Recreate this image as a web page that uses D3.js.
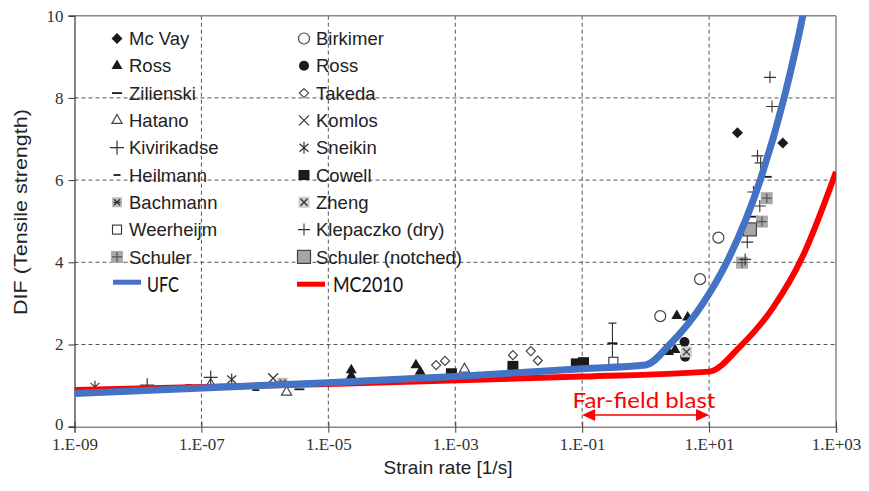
<!DOCTYPE html>
<html>
<head>
<meta charset="utf-8">
<script src="https://cdn.jsdelivr.net/npm/d3@7"></script>
<style>
  body { margin: 0; background: #fff; }
  svg { display: block; }
</style>
</head>
<body>
<div id="chart"></div>
<script>
// axis ticks
var xTicks = [1e-9, 1e-7, 1e-5, 1e-3, 1e-1, 1e1, 1e3];
var xTickLabels = ["1.E-09", "1.E-07", "1.E-05", "1.E-03", "1.E-01", "1.E+01", "1.E+03"];
var yTicks = [0, 2, 4, 6, 8, 10];

// design curves [strain rate, DIF]
var ufcCurve = [[1e-9, 0.81], [1e-5, 1.07], [1e-3, 1.22], [1e-1, 1.41], [1, 1.5], [2.4, 2], [8, 3], [19, 4], [64, 6], [152, 8], [300, 10], [420, 11.2]];
var mc2010Curve = [[1e-9, 0.89], [1e-5, 1.04], [1e-1, 1.22], [10, 1.34], [30, 1.93], [100, 2.88], [300, 4.15], [1000, 6.2]];

// test data [strain rate, DIF]
var mcVay = [[28, 7.15], [145, 6.9]];
var rossTri = [[2.3e-5, 1.38], [2.3e-5, 1.24], [2.4e-4, 1.5], [2.8e-4, 1.34], [3.1, 2.7], [4.6, 2.66], [2.3, 1.82], [2.9, 1.87]];
var zilienski = [[3.5e-6, 0.91], [81, 6.08], [50, 5.11], [0.3, 2.03]];
var hatano = [[1.4e-7, 1.03], [2.2e-6, 0.84], [1.4e-3, 1.4]];
var kivirikadse = [[1.4e-8, 1.01], [1.4e-7, 1.2]];
var heilmann = [[6.3e-8, 1.01], [7.2e-7, 0.89]];
var bachmann = [[1.9e-6, 1.07]];
var weerheijm = [[0.31, 1.58]];
var schuler = [[81, 5.56], [68, 4.99], [33, 3.99]];
var birkimer = [[1.7, 2.69], [7.2, 3.59], [14, 4.6]];
var rossCircle = [[4.1, 2.06], [4.2, 1.7]];
var takeda = [[5e-4, 1.5], [6.9e-4, 1.6], [8.1e-3, 1.74], [1.55e-2, 1.84], [2.0e-2, 1.61]];
var komlos = [[1.35e-6, 1.18]];
var sneikin = [[2.1e-9, 0.97], [3.0e-7, 1.15]];
var cowell = [[8.7e-4, 1.3], [8.1e-3, 1.48], [8.1e-2, 1.54], [0.105, 1.57]];
var zheng = [[4.4, 1.82]];
var klepaczko = [[91, 8.5], [98, 7.79], [58, 6.59], [65, 6.42], [50, 5.71], [63, 5.37], [40, 4.49], [37, 4.07]];
var schulerNotched = [[44, 4.8]];
// error bar [strain rate, low, high]
var errorBars = [[0.3, 1.6, 2.52]];

// far-field blast range
var blastRange = [0.1, 10];

var seriesCol1 = [
  {name: "Mc Vay", sym: "diamondFilled", data: mcVay},
  {name: "Ross", sym: "triFilled", data: rossTri},
  {name: "Zilienski", sym: "dash", data: zilienski},
  {name: "Hatano", sym: "triOpen", data: hatano},
  {name: "Kivirikadse", sym: "plus", data: kivirikadse},
  {name: "Heilmann", sym: "shortDash", data: heilmann},
  {name: "Bachmann", sym: "bachmann", data: bachmann},
  {name: "Weerheijm", sym: "squareOpen", data: weerheijm},
  {name: "Schuler", sym: "schuler", data: schuler}
];
var seriesCol2 = [
  {name: "Birkimer", sym: "circleOpen", data: birkimer},
  {name: "Ross", sym: "circleFilled", data: rossCircle},
  {name: "Takeda", sym: "diamondOpen", data: takeda},
  {name: "Komlos", sym: "times", data: komlos},
  {name: "Sneikin", sym: "asterisk", data: sneikin},
  {name: "Cowell", sym: "squareFilled", data: cowell},
  {name: "Zheng", sym: "zheng", data: zheng},
  {name: "Klepaczko (dry)", sym: "plusThin", data: klepaczko},
  {name: "Schuler (notched)", sym: "notched", data: schulerNotched}
];

const width = 869, height = 491;
const plot = {left: 74.5, right: 836, top: 15.7, bottom: 426.7};
const serif = "'Liberation Serif','Times New Roman',serif";
const sans = "'Liberation Sans',Arial,sans-serif";
const calibri = "Lato,'Open Sans',sans-serif";

var x = d3.scaleLog().domain([1e-9, 1e3]).range([plot.left, plot.right]);
var y = d3.scaleLinear().domain([0, 10]).range([plot.bottom, plot.top]);

var svg = d3.select("#chart").append("svg")
  .attr("width", width).attr("height", height);

svg.append("defs").append("clipPath").attr("id", "plotClip")
  .append("rect").attr("x", plot.left).attr("y", plot.top)
  .attr("width", plot.right - plot.left).attr("height", plot.bottom - plot.top);

// grid
var grid = svg.append("g");
grid.selectAll("line.v").data(xTicks.slice(1, -1)).enter().append("line")
  .attr("x1", d => x(d)).attr("x2", d => x(d))
  .attr("y1", plot.top).attr("y2", plot.bottom)
  .attr("stroke", "#555").attr("stroke-width", 1).attr("stroke-dasharray", "4,3");
grid.selectAll("line.h").data(yTicks.slice(1, -1)).enter().append("line")
  .attr("x1", plot.left).attr("x2", plot.right)
  .attr("y1", d => y(d)).attr("y2", d => y(d))
  .attr("stroke", "#555").attr("stroke-width", 1).attr("stroke-dasharray", "4,3");

// frame
svg.append("line").attr("x1", plot.left).attr("x2", plot.right).attr("y1", plot.top).attr("y2", plot.top)
  .attr("stroke", "#888").attr("stroke-width", 1.5);
svg.append("line").attr("x1", plot.right).attr("x2", plot.right).attr("y1", plot.top).attr("y2", plot.bottom)
  .attr("stroke", "#888").attr("stroke-width", 1.5);

// x axis
var xAxis = svg.append("g").attr("transform", "translate(0," + plot.bottom + ")")
  .call(d3.axisBottom(x).tickValues(xTicks).tickSize(6)
    .tickFormat((d, i) => xTickLabels[i]));
xAxis.select(".domain").attr("stroke", "#888").attr("stroke-width", 1.5);
xAxis.selectAll(".tick line").attr("y1", -5).attr("y2", 6).attr("stroke", "#444");
xAxis.selectAll(".tick text").attr("y", 11)
  .style("font-family", serif).style("font-size", "17px").attr("fill", "#333");

// y axis
var yAxis = svg.append("g").attr("transform", "translate(" + plot.left + ",0)")
  .call(d3.axisLeft(y).tickValues(yTicks).tickSize(6));
yAxis.select(".domain").attr("stroke", "#333").attr("stroke-width", 1.2);
yAxis.selectAll(".tick line").attr("stroke", "#333");
yAxis.selectAll(".tick text").attr("x", -11)
  .attr("y", d => d == 0 ? -3 : 0)
  .style("font-family", serif).style("font-size", "17px").attr("fill", "#333");

// axis titles
svg.append("text").attr("x", 448).attr("y", 474).attr("text-anchor", "middle")
  .style("font-family", sans).style("font-size", "19px").attr("fill", "#222")
  .text("Strain rate [1/s]");
svg.append("text").attr("transform", "translate(27,212) rotate(-90)").attr("text-anchor", "middle")
  .attr("textLength", 206).attr("lengthAdjust", "spacingAndGlyphs")
  .style("font-family", sans).style("font-size", "19px").attr("fill", "#222")
  .text("DIF (Tensile strength)");

// markers
function marker(g, sym) {
  var dark = "#1a1a1a";
  if (sym == "diamondFilled") {
    g.append("path").attr("d", "M0,-5.5L5.5,0L0,5.5L-5.5,0Z").attr("fill", dark);
  } else if (sym == "triFilled") {
    g.append("path").attr("d", d3.symbol(d3.symbolTriangle, 52)()).attr("fill", dark);
  } else if (sym == "dash") {
    g.append("path").attr("d", "M-5,0H5").attr("stroke", dark).attr("stroke-width", 1.8);
  } else if (sym == "shortDash") {
    g.append("path").attr("d", "M-3.5,0H3.5").attr("stroke", dark).attr("stroke-width", 1.8);
  } else if (sym == "triOpen") {
    g.append("path").attr("d", d3.symbol(d3.symbolTriangle, 45)()).attr("fill", "#fff")
      .attr("stroke", "#444").attr("stroke-width", 1.2);
  } else if (sym == "plus") {
    g.append("path").attr("d", "M-7,0H7M0,-7V7").attr("stroke", "#333").attr("stroke-width", 1.2);
  } else if (sym == "plusThin") {
    g.append("path").attr("d", "M-6,0H6M0,-6V6").attr("stroke", "#333").attr("stroke-width", 1.1);
  } else if (sym == "bachmann") {
    g.append("rect").attr("x", -5).attr("y", -5).attr("width", 10).attr("height", 10).attr("fill", "#bbb");
    g.append("path").attr("d", "M-3,-3L3,3M3,-3L-3,3M-3.5,0H3.5").attr("stroke", "#333").attr("stroke-width", 1.3);
  } else if (sym == "squareOpen") {
    g.append("rect").attr("x", -4.5).attr("y", -4.5).attr("width", 9).attr("height", 9)
      .attr("fill", "#fff").attr("stroke", "#333").attr("stroke-width", 1.1);
  } else if (sym == "schuler") {
    g.append("rect").attr("x", -6).attr("y", -6).attr("width", 12).attr("height", 12).attr("fill", "#aaa");
    g.append("path").attr("d", "M-5,0H5M0,-5V5").attr("stroke", "#555").attr("stroke-width", 1.2);
  } else if (sym == "circleOpen") {
    g.append("circle").attr("r", 5.5).attr("fill", "#fff").attr("stroke", "#444").attr("stroke-width", 1.2);
  } else if (sym == "circleFilled") {
    g.append("circle").attr("r", 5).attr("fill", dark);
  } else if (sym == "diamondOpen") {
    g.append("path").attr("d", "M0,-4.5L4.5,0L0,4.5L-4.5,0Z").attr("fill", "#fff")
      .attr("stroke", "#444").attr("stroke-width", 1.2);
  } else if (sym == "times") {
    g.append("path").attr("d", "M-5,-5L5,5M5,-5L-5,5").attr("stroke", "#333").attr("stroke-width", 1.2);
  } else if (sym == "asterisk") {
    g.append("path").attr("d", "M-4.5,-4L4.5,4M4.5,-4L-4.5,4M0,-6V6").attr("stroke", "#333").attr("stroke-width", 1.2);
  } else if (sym == "squareFilled") {
    g.append("rect").attr("x", -5.5).attr("y", -5).attr("width", 11).attr("height", 10).attr("fill", dark);
  } else if (sym == "zheng") {
    g.append("rect").attr("x", -5.5).attr("y", -5.5).attr("width", 11).attr("height", 11).attr("fill", "#ccc");
    g.append("path").attr("d", "M-3.5,-3.5L3.5,3.5M3.5,-3.5L-3.5,3.5").attr("stroke", "#333").attr("stroke-width", 1.3);
  } else if (sym == "notched") {
    g.append("rect").attr("x", -6.5).attr("y", -6.5).attr("width", 13).attr("height", 13)
      .attr("fill", "#a6a6a6").attr("stroke", "#444").attr("stroke-width", 1.2);
  }
}

// error bars
var eb = svg.append("g");
errorBars.forEach(function(d) {
  eb.append("path")
    .attr("d", "M" + (x(d[0]) - 4) + "," + y(d[2]) + "H" + (x(d[0]) + 4) +
      "M" + x(d[0]) + "," + y(d[2]) + "V" + y(d[1]))
    .attr("stroke", "#333").attr("stroke-width", 1.1).attr("fill", "none");
});

// data points
var pts = svg.append("g");
seriesCol1.concat(seriesCol2).forEach(function(s) {
  s.data.forEach(function(d) {
    var g = pts.append("g").attr("transform", "translate(" + x(d[0]) + "," + y(d[1]) + ")");
    marker(g, s.sym);
  });
});

// curves
var line = d3.line().x(d => x(d[0])).y(d => y(d[1])).curve(d3.curveMonotoneX);
var curves = svg.append("g").attr("clip-path", "url(#plotClip)");
curves.append("path").datum(mc2010Curve).attr("d", line)
  .attr("fill", "none").attr("stroke", "#ff0000").attr("stroke-width", 6);
curves.append("path").datum(ufcCurve).attr("d", line)
  .attr("fill", "none").attr("stroke", "#4472c4").attr("stroke-width", 7);

// legend
var legend = svg.append("g");
var rowY = d3.scaleLinear().domain([0, 1]).range([38.5, 65.8]);
[seriesCol1, seriesCol2].forEach(function(col, ci) {
  var mx = ci == 0 ? 117 : 304, tx = ci == 0 ? 129 : 316;
  col.forEach(function(s, i) {
    var g = legend.append("g").attr("transform", "translate(" + mx + "," + rowY(i) + ")");
    marker(g, s.sym);
    legend.append("text").attr("x", tx).attr("y", rowY(i)).attr("dy", "0.36em")
      .style("font-family", sans).style("font-size", "18.5px").attr("fill", "#222")
      .text(s.name);
  });
});
legend.append("line").attr("x1", 113).attr("x2", 141).attr("y1", rowY(9) - 2).attr("y2", rowY(9) - 2)
  .attr("stroke", "#4472c4").attr("stroke-width", 5);
legend.append("text").attr("x", 147).attr("y", rowY(9)).attr("dy", "0.36em")
  .attr("textLength", 32).attr("lengthAdjust", "spacingAndGlyphs")
  .style("font-family", calibri).style("font-size", "21px").attr("fill", "#111").text("UFC");
legend.append("line").attr("x1", 297).attr("x2", 325).attr("y1", rowY(9)).attr("y2", rowY(9))
  .attr("stroke", "#ff0000").attr("stroke-width", 5);
legend.append("text").attr("x", 333).attr("y", rowY(9)).attr("dy", "0.36em")
  .attr("textLength", 70).attr("lengthAdjust", "spacingAndGlyphs")
  .style("font-family", calibri).style("font-size", "21px").attr("fill", "#111").text("MC2010");

// far-field blast annotation
var ann = svg.append("g");
var ay = 415, ax1 = x(blastRange[0]), ax2 = x(blastRange[1]);
ann.append("line").attr("x1", ax1 + 10).attr("x2", ax2 - 10).attr("y1", ay).attr("y2", ay)
  .attr("stroke", "#ff0000").attr("stroke-width", 1.5);
ann.append("path").attr("d", "M" + ax1 + "," + ay + "L" + (ax1 + 13) + "," + (ay - 6) + "L" + (ax1 + 13) + "," + (ay + 6) + "Z")
  .attr("fill", "#ff0000");
ann.append("path").attr("d", "M" + ax2 + "," + ay + "L" + (ax2 - 13) + "," + (ay - 6) + "L" + (ax2 - 13) + "," + (ay + 6) + "Z")
  .attr("fill", "#ff0000");
ann.append("text").attr("x", 572.5).attr("y", 407.5)
  .attr("textLength", 143).attr("lengthAdjust", "spacingAndGlyphs")
  .style("font-family", calibri).style("font-size", "22px").attr("fill", "#ff0000")
  .text("Far-field blast");
</script>
</body>
</html>
